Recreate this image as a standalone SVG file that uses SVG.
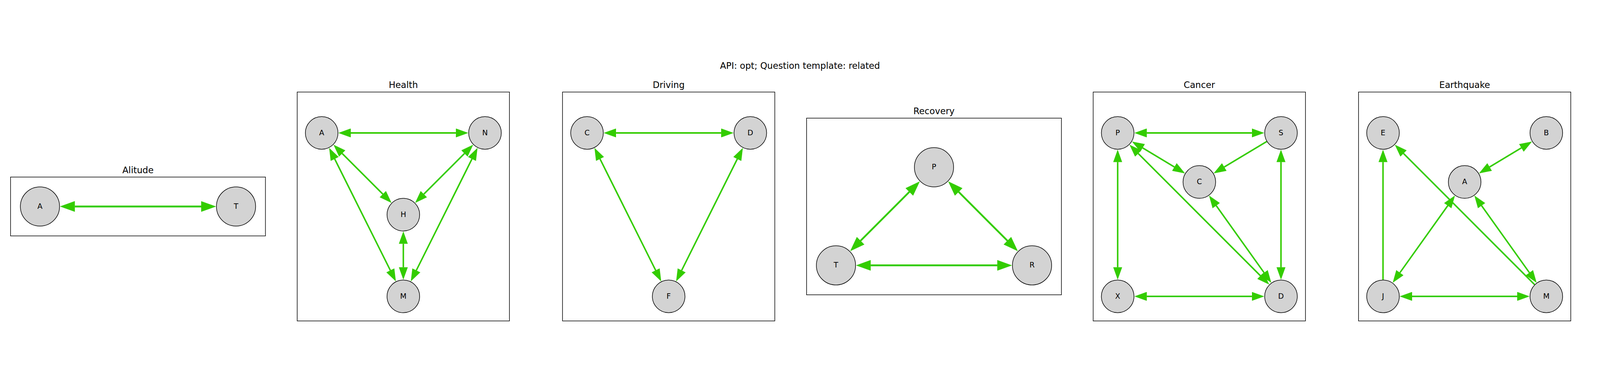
<svg xmlns="http://www.w3.org/2000/svg" width="6000" height="1000" viewBox="0 0 6000 1000">
<style>
svg{width:100vw;height:100vh}
text{font-family:"DejaVu Sans","Liberation Sans",sans-serif;fill:#000}
.title{font-size:33.3px;text-anchor:middle}
.lbl{font-size:27.8px;text-anchor:middle}
.box{fill:none;stroke:#000;stroke-width:2.2}
.n{fill:#d3d3d3;stroke:#000;stroke-width:2.2}
.e{fill:none;stroke:#33cc00;stroke-linecap:butt}
.s{stroke-width:5.6}
.b{stroke-width:6.7}
.d{marker-start:url(#ah);marker-end:url(#ah)}
.o{marker-end:url(#ah)}
</style>
<defs>
<marker id="ah" viewBox="0 0 8.35 6" markerWidth="8.35" markerHeight="6" refX="0.05" refY="3" orient="auto-start-reverse" markerUnits="strokeWidth">
<path d="M0,0 L8.35,3 L0,6 z" fill="#33cc00"/>
</marker>
</defs>
<rect width="6000" height="1000" fill="#fff"/>
<text class="title" x="3000" y="26">API: opt; Question template: related</text>

<g id="panels">
<g id="panel-alitude"><rect class="box" x="39.6" y="430.85" width="955.8" height="220.6"/><text class="title" x="517.5" y="415.9">Alitude</text></g>
<g id="panel-health"><rect class="box" x="1114.4" y="112.45" width="796.1" height="857.4"/><text class="title" x="1512.5" y="97.4">Health</text></g>
<g id="panel-driving"><rect class="box" x="2109.4" y="112.45" width="796.1" height="857.4"/><text class="title" x="2507.5" y="97.4">Driving</text></g>
<g id="panel-recovery"><rect class="box" x="3024.6" y="210.3" width="955.8" height="661.7"/><text class="title" x="3502.5" y="195.3">Recovery</text></g>
<g id="panel-cancer"><rect class="box" x="4099.4" y="112.45" width="796.1" height="857.4"/><text class="title" x="4497.5" y="97.4">Cancer</text></g>
<g id="panel-earthquake"><rect class="box" x="5094.4" y="112.45" width="796.1" height="857.4"/><text class="title" x="5492.5" y="97.4">Earthquake</text></g>
</g>

<g id="connectors">
<!-- Alitude -->
<path class="e b d" d="M280.4,541.15 L754.6,541.15"/>
<!-- Health -->
<path class="e s d" d="M1315.2,265.6 L1709.8,265.6"/>
<path class="e s d" d="M1512.5,680.7 L1512.5,769"/>
<path class="e s d" d="M1283.3,342.6 L1435.5,494.8"/>
<path class="e s d" d="M1741.7,342.6 L1589.5,494.8"/>
<path class="e s d" d="M1255,363 L1463.8,780.5"/>
<path class="e s d" d="M1770,363 L1561.2,780.5"/>
<!-- Driving -->
<path class="e s d" d="M2310.2,265.6 L2704.6,265.6"/>
<path class="e s d" d="M2250,363 L2458.8,780.5"/>
<path class="e s d" d="M2765,363 L2556.2,780.5"/>
<!-- Recovery -->
<path class="e b d" d="M3410.2,486.4 L3227.2,669.4"/>
<path class="e b d" d="M3594.8,486.4 L3777.8,669.4"/>
<path class="e b d" d="M3265.4,761.7 L3739.6,761.7"/>
<!-- Cancer -->
<path class="e s d" d="M4300.2,265.6 L4694.6,265.6"/>
<path class="e s d" d="M4300.2,877.9 L4694.6,877.9"/>
<path class="e s d" d="M4191.3,374.5 L4191.3,769"/>
<path class="e s d" d="M4803.7,374.5 L4803.7,769"/>
<path class="e s d" d="M4284.7,321.6 L4404.1,393.3"/>
<path class="e s o" d="M4750.4,297.6 L4590.9,393.3"/>
<path class="e s d" d="M4268.3,342.6 L4726.7,800.9"/>
<path class="e s d" d="M4560.8,537.9 L4740.4,789.3"/>
<!-- Earthquake -->
<path class="e s d" d="M5295.2,877.9 L5689.6,877.9"/>
<path class="e s o" d="M5186.3,815.7 L5186.3,374.5"/>
<path class="e s d" d="M5585.9,393.3 L5705.3,321.6"/>
<path class="e s d" d="M5429.2,537.9 L5249.6,789.3"/>
<path class="e s d" d="M5555.8,537.9 L5735.4,789.3"/>
<path class="e s o" d="M5754.7,833.9 L5263.3,342.6"/>
</g>

<g id="nodes">
<g id="alitude-A"><circle class="n" cx="149.9" cy="541.15" r="73.5"/><text class="lbl" x="149.9" y="549.45">A</text></g>
<g id="alitude-T"><circle class="n" cx="885.1" cy="541.15" r="73.5"/><text class="lbl" x="885.1" y="549.45">T</text></g>

<g id="health-A"><circle class="n" cx="1206.3" cy="265.6" r="61.2"/><text class="lbl" x="1206.3" y="273.9">A</text></g>
<g id="health-N"><circle class="n" cx="1818.7" cy="265.6" r="61.2"/><text class="lbl" x="1818.7" y="273.9">N</text></g>
<g id="health-H"><circle class="n" cx="1512.5" cy="571.8" r="61.2"/><text class="lbl" x="1512.5" y="580.1">H</text></g>
<g id="health-M"><circle class="n" cx="1512.5" cy="877.9" r="61.2"/><text class="lbl" x="1512.5" y="886.2">M</text></g>

<g id="driving-C"><circle class="n" cx="2201.3" cy="265.6" r="61.2"/><text class="lbl" x="2201.3" y="273.9">C</text></g>
<g id="driving-D"><circle class="n" cx="2813.7" cy="265.6" r="61.2"/><text class="lbl" x="2813.7" y="273.9">D</text></g>
<g id="driving-F"><circle class="n" cx="2507.5" cy="877.9" r="61.2"/><text class="lbl" x="2507.5" y="886.2">F</text></g>

<g id="recovery-P"><circle class="n" cx="3502.5" cy="394.1" r="73.5"/><text class="lbl" x="3502.5" y="402.4">P</text></g>
<g id="recovery-T"><circle class="n" cx="3134.9" cy="761.7" r="73.5"/><text class="lbl" x="3134.9" y="770">T</text></g>
<g id="recovery-R"><circle class="n" cx="3870.1" cy="761.7" r="73.5"/><text class="lbl" x="3870.1" y="770">R</text></g>

<g id="cancer-P"><circle class="n" cx="4191.3" cy="265.6" r="61.2"/><text class="lbl" x="4191.3" y="273.9">P</text></g>
<g id="cancer-S"><circle class="n" cx="4803.7" cy="265.6" r="61.2"/><text class="lbl" x="4803.7" y="273.9">S</text></g>
<g id="cancer-C"><circle class="n" cx="4497.5" cy="449.3" r="61.2"/><text class="lbl" x="4497.5" y="457.6">C</text></g>
<g id="cancer-X"><circle class="n" cx="4191.3" cy="877.9" r="61.2"/><text class="lbl" x="4191.3" y="886.2">X</text></g>
<g id="cancer-D"><circle class="n" cx="4803.7" cy="877.9" r="61.2"/><text class="lbl" x="4803.7" y="886.2">D</text></g>

<g id="earthquake-E"><circle class="n" cx="5186.3" cy="265.6" r="61.2"/><text class="lbl" x="5186.3" y="273.9">E</text></g>
<g id="earthquake-B"><circle class="n" cx="5798.7" cy="265.6" r="61.2"/><text class="lbl" x="5798.7" y="273.9">B</text></g>
<g id="earthquake-A"><circle class="n" cx="5492.5" cy="449.3" r="61.2"/><text class="lbl" x="5492.5" y="457.6">A</text></g>
<g id="earthquake-J"><circle class="n" cx="5186.3" cy="877.9" r="61.2"/><text class="lbl" x="5186.3" y="886.2">J</text></g>
<g id="earthquake-M"><circle class="n" cx="5798.7" cy="877.9" r="61.2"/><text class="lbl" x="5798.7" y="886.2">M</text></g>
</g>
</svg>
